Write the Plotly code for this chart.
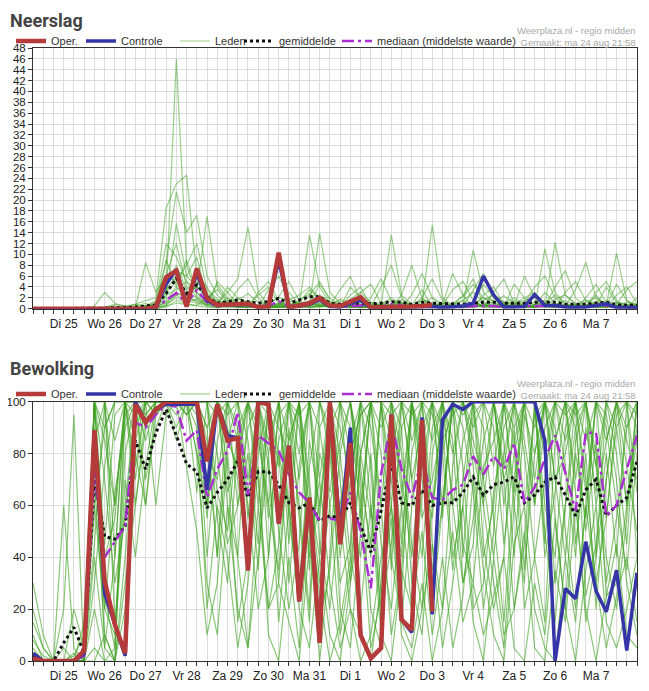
import pandas as pd
import plotly.graph_objects as go

# ===================== DATA =====================
# 6-uurlijkse tijdstappen: ma 24 aug 18:00 t/m di 8 sep 12:00
TIJDEN = pd.date_range("2020-08-24 18:00", periods=60, freq="6h")
DAG_MIDDAG = pd.date_range("2020-08-25 12:00", periods=14, freq="D")
DAG_LABELS = ["Di 25", "Wo 26", "Do 27", "Vr 28", "Za 29", "Zo 30", "Ma 31",
              "Di 1", "Wo 2", "Do 3", "Vr 4", "Za 5", "Zo 6", "Ma 7"]
X_BEREIK = ["2020-08-24 18:00", "2020-09-08 12:00"]

N = None

# ---- Neerslag (mm) ----
NEERSLAG_OPER = [0, 0, 0, 0, 0, 0, 0, 0, 0, 0, 0, 0, 0.3, 5.8, 7.0, 0.4, 7.4, 1.9, 0.7, 0.8, 0.9,
                 0.9, 0.3, 0.4, 10.3, 0.2, 0.6, 1.0, 2.0, 0.6, 0.5, 1.2, 2.1, 0.2, 0.2, 0.2, 0.3,
                 0.4, 0.5, 0.7, N, N, N, N, N, N, N, N, N, N, N, N, N, N, N, N, N, N, N, N]
NEERSLAG_CONTROLE = [0, 0, 0, 0, 0, 0, 0, 0, 0, 0, 0, 0, 0.3, 4.5, 7.2, 0.8, 6.5, 1.5, 0.6, 0.8, 0.7,
                     0.8, 0.3, 0.5, 9.0, 0.3, 0.5, 0.8, 1.7, 0.4, 0.3, 1.0, 1.6, 0.1, 0.1, 0.1, 0.2,
                     0.3, 0.3, 0.4, 0.2, 0.3, 0.5, 1.0, 6.0, 2.5, 0.3, 0.3, 0.4, 2.6, 0.6, 0.6, 0.3,
                     0.2, 0.3, 0.6, 0.9, 0.2, 0.2, 0.2]
NEERSLAG_GEM = [0, 0, 0, 0, 0, 0, 0, 0.1, 0.2, 0.2, 0.3, 0.5, 0.7, 2.8, 5.6, 2.8, 4.4, 2.2, 1.0, 1.3, 1.6,
                1.3, 1.0, 1.3, 1.9, 1.0, 1.6, 2.2, 2.2, 1.0, 0.8, 1.0, 0.9, 0.9, 1.0, 1.3, 1.2,
                0.8, 1.2, 1.0, 1.0, 0.9, 0.8, 1.0, 1.2, 1.2, 1.0, 1.0, 1.0, 1.2, 1.2, 1.2, 0.8,
                0.8, 0.8, 1.0, 1.2, 0.7, 0.6, 0.6]
NEERSLAG_MED = [0, 0, 0, 0, 0, 0, 0, 0, 0, 0, 0, 0.1, 0.2, 1.5, 2.9, 1.0, 3.4, 1.2, 0.4, 0.7, 0.8,
                0.7, 0.3, 0.5, 1.4, 0.4, 0.8, 1.2, 1.4, 0.4, 0.3, 0.5, 0.6, 0.3, 0.4, 0.8, 0.6,
                0.3, 0.5, 0.5, 0.4, 0.3, 0.3, 0.5, 0.5, 0.5, 0.3, 0.4, 0.4, 0.5, 0.5, 0.5, 0.3,
                0.3, 0.3, 0.5, 0.6, 0.3, 0.2, 0.2]
NEERSLAG_LEDEN = [
    [0, 0, 0, 0, 0, 0, 0, 0, 0, 0, 0, 0.5, 1.2, 3.0, 46, 8.0, 2.5, 1.0, 0.5, 2.0, 1.2, 0.8, 0.2, 0.5, 1.0, 0.5, 1.5, 2.8, 1.2, 0.3, 0.2, 0.8, 0.5, 0.2, 0.5, 1.5, 0.8, 0.3, 0.6, 1.2, 0.5, 0.2, 0.3, 0.8, 2.0, 1.5, 0.6, 0.3, 0.2, 0.4, 1.0, 2.5, 0.8, 0.3, 0.5, 1.0, 0.6, 0.3, 0.2, 0.1],
    [0, 0, 0, 0, 0, 0, 0, 0.3, 0.8, 0.5, 0.8, 1.5, 2.0, 18.5, 23, 24.6, 6.0, 3.0, 1.2, 0.5, 0.8, 1.5, 0.6, 0.3, 0.8, 1.0, 0.4, 0.6, 2.5, 1.2, 0.6, 0.4, 0.2, 0.3, 0.8, 2.0, 1.0, 0.5, 1.8, 0.9, 0.4, 0.6, 1.5, 3.0, 1.2, 0.4, 0.2, 0.8, 1.5, 2.2, 0.9, 0.5, 0.3, 0.2, 0.6, 1.4, 0.8, 0.4, 0.3, 0.5],
    [0, 0, 0, 0, 0, 0, 0, 0, 0, 0, 0.2, 0.6, 0.4, 8.5, 21.5, 14.0, 17.2, 6.0, 2.5, 1.0, 0.5, 0.3, 0.2, 0.2, 0.6, 0.5, 1.2, 3.5, 1.8, 0.8, 0.4, 0.2, 0.3, 0.5, 1.2, 0.6, 0.3, 0.2, 0.4, 0.3, 0.6, 1.0, 2.2, 4.5, 2.0, 0.8, 0.4, 0.2, 0.3, 0.6, 1.5, 0.8, 0.4, 0.2, 0.3, 0.8, 1.5, 0.6, 0.3, 0.2],
    [0, 0, 0, 0, 0, 0, 0, 0, 0.2, 0.4, 0.3, 0.2, 1.0, 12.0, 9.5, 5.0, 3.5, 17.0, 4.0, 1.5, 0.8, 0.5, 0.3, 0.2, 0.4, 0.2, 0.6, 1.5, 0.8, 0.4, 0.3, 1.8, 3.0, 1.2, 0.5, 0.3, 0.2, 0.4, 0.8, 15.4, 2.0, 0.6, 0.3, 0.5, 0.8, 1.2, 2.4, 1.0, 0.5, 0.3, 0.5, 0.2, 0.3, 0.5, 1.2, 2.0, 0.8, 0.4, 0.6, 0.3],
    [0, 0, 0, 0, 0, 0, 0, 0, 0, 0, 0, 0, 0.5, 2.0, 15.7, 6.0, 4.0, 2.0, 1.0, 3.0, 5.5, 15.0, 3.0, 0.8, 0.4, 0.6, 0.3, 0.2, 0.5, 0.8, 1.5, 0.6, 0.3, 0.2, 0.3, 0.5, 1.0, 0.8, 0.4, 0.3, 0.2, 0.5, 0.6, 0.4, 1.5, 2.6, 1.2, 0.6, 0.4, 0.3, 0.6, 1.8, 2.5, 1.0, 0.4, 0.2, 0.3, 0.6, 1.2, 0.4],
    [0, 0, 0, 0, 0, 0, 0.5, 3.0, 1.0, 0.4, 0.2, 8.5, 3.0, 6.0, 5.0, 8.0, 12.0, 3.5, 1.8, 0.6, 0.3, 0.2, 0.4, 1.0, 2.0, 1.5, 0.8, 0.4, 0.3, 0.5, 1.0, 0.6, 0.3, 0.2, 0.4, 0.8, 1.6, 0.7, 0.3, 0.6, 1.0, 0.4, 0.2, 0.3, 0.6, 0.4, 0.8, 1.5, 0.6, 0.3, 11.0, 3.0, 1.0, 0.5, 0.3, 0.6, 0.9, 0.5, 0.4, 0.6],
    [0, 0, 0, 0, 0, 0, 0, 0.2, 0, 0, 0, 0.3, 0.6, 1.0, 3.0, 2.0, 6.5, 4.0, 1.0, 0.5, 0.8, 1.2, 0.5, 0.2, 0.2, 0.4, 0.6, 13.6, 4.0, 1.0, 0.5, 0.3, 0.2, 0.3, 0.5, 0.4, 0.6, 0.3, 0.2, 0.4, 0.5, 0.8, 1.5, 0.7, 0.4, 0.5, 0.3, 0.4, 0.8, 1.2, 0.6, 12.2, 2.5, 0.8, 0.4, 0.3, 0.5, 10.2, 1.5, 0.6],
    [0, 0, 0, 0, 0, 0, 0, 0, 0, 0, 0.2, 0.4, 0.2, 1.5, 4.0, 9.0, 3.0, 1.2, 0.6, 1.5, 0.6, 0.4, 0.3, 0.6, 1.0, 0.8, 1.0, 0.5, 13.9, 3.0, 1.0, 0.4, 0.3, 0.2, 0.6, 13.6, 2.5, 0.8, 0.5, 0.3, 0.4, 0.6, 0.8, 0.5, 0.3, 0.4, 1.0, 2.0, 0.8, 0.4, 0.3, 0.5, 0.8, 0.6, 1.6, 0.8, 0.3, 0.2, 0.4, 0.8],
    [0, 0, 0, 0, 0, 0, 0, 0, 0, 0, 0, 0, 0.2, 0.6, 2.5, 1.5, 1.0, 0.5, 0.2, 0.3, 0.5, 0.8, 0.4, 0.2, 0.3, 0.5, 0.8, 1.2, 0.6, 0.3, 0.5, 1.5, 0.8, 0.4, 0.2, 0.3, 0.5, 0.4, 0.6, 0.8, 0.5, 0.3, 0.6, 10.8, 3.0, 1.2, 0.5, 0.3, 0.6, 0.8, 0.4, 0.3, 0.5, 0.8, 0.4, 0.2, 0.6, 1.2, 0.8, 0.4],
    [0, 0, 0, 0, 0, 0, 0, 0, 0, 0.3, 0.8, 0.5, 0.8, 3.5, 6.0, 3.0, 2.0, 0.8, 0.5, 0.8, 1.5, 2.8, 1.2, 0.6, 0.3, 0.2, 0.3, 0.6, 1.5, 0.8, 0.4, 0.6, 0.4, 0.3, 0.4, 0.8, 0.6, 0.4, 0.9, 2.0, 1.0, 0.5, 0.3, 0.4, 0.6, 0.8, 0.5, 0.3, 0.2, 0.4, 0.8, 0.4, 0.3, 0.5, 0.6, 1.0, 0.5, 0.3, 0.2, 0.2],
    [0, 0, 0, 0, 0, 0, 0, 0, 0, 0, 0, 0, 0, 0.5, 1.0, 0.8, 0.6, 2.0, 3.5, 1.2, 0.3, 0.5, 2.5, 4.0, 1.0, 0.3, 0.2, 2.5, 5.0, 1.5, 0.3, 0.2, 3.0, 4.5, 1.0, 0.4, 0.5, 0.3, 2.0, 5.5, 1.5, 0.2, 0.3, 0.2, 2.5, 4.0, 0.8, 0.5, 0.6, 0.4, 3.0, 1.0, 0.3, 0.2, 2.0, 4.5, 1.0, 0.3, 0.2, 2.0],
    [0, 0, 0, 0, 0, 0, 0, 0, 0, 0, 0, 0.2, 0.5, 4.5, 8.0, 3.5, 5.0, 2.5, 0.8, 4.0, 2.0, 1.0, 0.6, 0.4, 0.8, 1.5, 2.5, 4.0, 2.0, 0.8, 0.3, 0.5, 0.6, 0.3, 0.2, 0.4, 0.8, 0.5, 1.5, 0.8, 0.3, 0.2, 0.5, 1.2, 4.5, 2.0, 0.6, 0.4, 0.3, 0.2, 0.4, 0.8, 1.5, 0.6, 0.3, 0.5, 4.0, 1.0, 0.5, 0.3],
    [0, 0, 0, 0, 0, 0, 0, 0, 0, 0, 0, 0, 0.3, 2.5, 3.5, 5.0, 2.0, 1.0, 4.5, 2.0, 0.4, 0.6, 0.3, 0.8, 2.2, 5.0, 1.5, 0.3, 0.4, 0.6, 3.5, 6.0, 1.5, 1.0, 0.6, 0.3, 2.5, 8.0, 2.0, 0.5, 0.3, 0.2, 0.4, 3.5, 6.5, 2.0, 0.3, 0.6, 1.0, 4.0, 6.0, 2.0, 0.5, 0.8, 0.4, 3.0, 5.0, 1.5, 0.2, 0.1],
    [0, 0, 0, 0, 0, 0, 0, 0, 0, 0, 0.5, 1.0, 0.4, 6.0, 12.0, 4.0, 3.0, 1.5, 0.8, 0.5, 0.3, 0.2, 0.4, 0.5, 0.3, 0.2, 0.6, 1.0, 0.5, 0.3, 0.2, 0.4, 0.8, 0.5, 0.3, 0.2, 0.4, 0.6, 1.2, 0.6, 0.4, 0.3, 0.2, 0.3, 0.5, 0.4, 0.3, 0.8, 2.0, 3.0, 1.0, 0.5, 0.4, 0.3, 0.5, 0.4, 0.3, 0.5, 0.4, 0.2],
    [0, 0, 0, 0, 0, 0, 0, 0.3, 0.5, 0.2, 0, 0, 0, 0.3, 1.5, 0.8, 0.5, 0.3, 0.2, 0.6, 3.5, 5.5, 2.0, 0.3, 0.5, 0.3, 0.4, 0.8, 4.5, 2.0, 0.6, 1.0, 0.6, 0.3, 4.0, 8.0, 2.0, 0.3, 0.5, 0.8, 0.6, 3.5, 5.0, 1.5, 0.3, 0.2, 0.4, 4.5, 2.0, 0.6, 0.4, 0.3, 3.0, 5.0, 1.5, 0.3, 0.2, 2.5, 4.0, 1.0],
    [0, 0, 0, 0, 0, 0, 0, 0, 0, 0, 0, 0.2, 0.8, 9.0, 4.0, 2.0, 1.5, 0.6, 0.3, 0.8, 2.0, 1.2, 0.5, 0.2, 0.4, 0.6, 1.2, 0.8, 0.4, 0.5, 1.8, 1.0, 0.3, 0.2, 0.4, 0.6, 0.5, 0.3, 0.2, 0.4, 1.0, 0.6, 0.4, 0.6, 0.8, 0.5, 1.2, 0.8, 0.4, 0.3, 0.5, 0.4, 0.6, 0.4, 0.3, 0.6, 1.2, 0.4, 0.3, 0.2],
    [0, 0, 0, 0, 0, 0, 0, 0, 0, 0, 0, 0, 0, 0.8, 2.0, 1.0, 1.8, 0.6, 5.0, 3.0, 0.8, 0.5, 0.2, 3.5, 6.0, 2.0, 0.4, 0.2, 0.5, 0.3, 0.2, 4.0, 2.0, 0.6, 0.8, 0.5, 0.3, 2.5, 6.5, 2.0, 0.4, 0.5, 0.3, 0.6, 0.4, 3.0, 5.5, 1.0, 0.6, 0.5, 0.4, 0.8, 0.5, 3.5, 8.5, 2.0, 0.5, 0.3, 0.2, 0.3],
    [0, 0, 0, 0, 0, 0, 0, 0, 0, 0, 0, 0.4, 1.5, 5.0, 7.0, 6.0, 9.5, 2.0, 1.5, 1.0, 0.6, 0.4, 0.2, 0.3, 0.8, 0.5, 0.3, 0.6, 1.0, 0.5, 0.3, 0.6, 1.2, 0.8, 0.5, 0.4, 0.3, 0.2, 0.4, 0.6, 0.4, 0.3, 0.6, 1.0, 0.6, 0.4, 0.3, 0.2, 0.5, 0.8, 1.0, 0.5, 0.3, 0.4, 0.8, 0.6, 0.3, 0.5, 0.8, 1.0],
    [0, 0, 0, 0, 0, 0, 0, 0, 0, 0, 0, 0, 0.2, 1.2, 2.5, 3.0, 4.0, 2.5, 0.6, 0.3, 0.2, 0.3, 3.0, 5.0, 1.5, 0.3, 0.4, 0.5, 0.8, 0.6, 0.4, 0.3, 0.2, 2.0, 5.5, 1.5, 0.3, 0.4, 0.3, 0.5, 0.8, 6.5, 2.5, 0.3, 0.6, 0.5, 0.8, 0.4, 0.3, 0.4, 0.6, 4.0, 7.0, 2.0, 0.4, 0.5, 0.6, 0.8, 3.5, 5.0],
    [0, 0, 0, 0, 0, 0, 0, 0, 0, 0, 0, 0.3, 0.6, 3.0, 5.0, 2.5, 1.2, 0.8, 0.6, 0.4, 0.6, 0.8, 0.5, 0.4, 0.3, 3.0, 0.8, 1.2, 0.6, 0.4, 0.3, 2.5, 4.0, 0.4, 0.3, 0.6, 1.2, 0.6, 3.5, 0.3, 0.5, 0.6, 2.5, 5.5, 0.8, 0.4, 0.3, 0.5, 6.0, 2.0, 0.6, 0.3, 0.4, 0.6, 0.3, 2.5, 0.5, 4.5, 1.5, 0.3],
]

# ---- Bewolking (%) ----
BEWOLKING_OPER = [1, 0, 0, 0, 0, 4, 89, 31, 14, 3, 99, 92, 97, 100, 100, 100, 100, 77, 99, 85, 86,
                  35, 100, 99, 53, 83, 23, 63, 7, 100, 45, 84, 10, 1, 5, 95, 16, 12, 93, 19,
                  N, N, N, N, N, N, N, N, N, N, N, N, N, N, N, N, N, N, N, N]
BEWOLKING_CONTROLE = [3, 0, 0, 0, 0, 3, 88, 26, 14, 2, 100, 92, 97, 99, 99, 99, 99, 66, 99, 87, 86,
                      35, 100, 99, 53, 83, 23, 63, 7, 100, 50, 90, 10, 1, 5, 95, 16, 11, 94, 18, 93,
                      99, 97, 100, 100, 100, 100, 100, 100, 100, 85, 0, 28, 24, 46, 27, 19, 35, 4, 34]
BEWOLKING_GEM = [2, 0, 0, 7, 13, 3, 70, 48, 47, 52, 85, 74, 88, 97, 87, 76, 73, 59, 65, 70, 77,
                 63, 73, 73, 68, 61, 59, 61, 54, 56, 55, 61, 52, 42, 58, 76, 61, 60, 66, 60, 61,
                 61, 65, 71, 64, 68, 69, 71, 61, 64, 69, 71, 64, 56, 66, 70, 56, 60, 63, 77]
BEWOLKING_MED = [1, 0, 0, 0, 0, 2, 73, 40, 46, 52, 92, 90, 95, 99, 98, 85, 89, 63, 74, 81, 96,
                 64, 87, 84, 81, 72, 65, 61, 54, 55, 54, 65, 50, 28, 72, 92, 74, 63, 78, 63, 62,
                 66, 68, 79, 72, 79, 74, 84, 61, 67, 78, 87, 72, 58, 88, 88, 56, 60, 74, 87]
BEWOLKING_LEDEN = [
    [8, 2, 0, 0, 0, 0, 100, 85, 60, 100, 100, 95, 100, 100, 100, 100, 80, 60, 100, 90, 70, 40, 100, 100, 80, 60, 30, 75, 100, 85, 40, 70, 100, 60, 20, 45, 90, 100, 80, 35, 60, 100, 100, 85, 70, 40, 80, 100, 60, 95, 100, 70, 40, 80, 55, 100, 90, 60, 35, 80],
    [0, 0, 0, 0, 0, 5, 60, 20, 10, 80, 100, 100, 100, 100, 100, 95, 100, 100, 65, 50, 90, 100, 70, 20, 45, 100, 90, 60, 15, 35, 80, 100, 65, 20, 5, 80, 100, 70, 40, 90, 100, 60, 30, 55, 85, 100, 70, 20, 45, 100, 85, 30, 60, 90, 100, 75, 40, 20, 55, 100],
    [15, 5, 0, 20, 95, 0, 100, 40, 55, 100, 75, 100, 100, 100, 100, 100, 100, 90, 40, 85, 100, 55, 100, 75, 30, 85, 100, 40, 60, 100, 55, 20, 10, 0, 30, 100, 70, 40, 85, 100, 55, 100, 90, 65, 20, 50, 100, 100, 80, 40, 15, 85, 100, 100, 70, 30, 55, 95, 100, 65],
    [2, 0, 0, 0, 20, 5, 70, 10, 0, 40, 90, 100, 95, 100, 100, 100, 95, 40, 85, 100, 60, 80, 35, 100, 100, 60, 100, 50, 0, 40, 100, 90, 60, 100, 60, 10, 35, 80, 100, 45, 20, 75, 100, 100, 60, 30, 5, 60, 100, 70, 100, 90, 50, 20, 60, 100, 95, 70, 30, 10],
    [0, 0, 0, 0, 0, 0, 100, 45, 95, 100, 60, 95, 100, 100, 85, 100, 100, 70, 100, 60, 40, 100, 90, 55, 80, 30, 75, 100, 90, 100, 100, 60, 40, 80, 25, 60, 100, 100, 55, 70, 90, 40, 60, 100, 100, 90, 45, 80, 100, 60, 100, 100, 75, 40, 90, 65, 100, 80, 45, 100],
    [10, 0, 0, 5, 0, 3, 45, 100, 15, 60, 100, 85, 100, 100, 100, 100, 100, 100, 55, 30, 85, 100, 100, 60, 35, 90, 60, 20, 100, 100, 70, 30, 80, 100, 100, 85, 60, 20, 65, 100, 100, 85, 30, 45, 100, 100, 60, 90, 35, 80, 100, 55, 20, 85, 100, 40, 70, 100, 60, 85],
    [3, 0, 0, 60, 5, 0, 85, 100, 40, 100, 100, 70, 90, 100, 100, 95, 100, 100, 100, 75, 15, 40, 80, 100, 100, 55, 25, 85, 60, 90, 20, 5, 50, 100, 80, 40, 15, 60, 100, 100, 80, 35, 70, 100, 90, 55, 15, 70, 100, 100, 60, 40, 90, 100, 25, 45, 80, 40, 100, 90],
    [0, 0, 0, 0, 0, 0, 30, 75, 100, 100, 85, 100, 60, 95, 100, 100, 100, 60, 100, 100, 100, 85, 45, 100, 75, 100, 100, 35, 80, 65, 100, 100, 70, 45, 100, 60, 25, 100, 85, 20, 60, 100, 100, 75, 40, 60, 100, 85, 20, 40, 70, 100, 100, 65, 15, 40, 100, 100, 75, 50],
    [20, 5, 0, 0, 2, 10, 100, 25, 5, 100, 95, 100, 100, 100, 90, 100, 100, 80, 70, 100, 85, 60, 20, 40, 100, 100, 80, 100, 45, 20, 60, 85, 100, 90, 60, 100, 80, 45, 20, 80, 100, 100, 45, 30, 75, 85, 100, 65, 100, 100, 50, 15, 60, 100, 100, 80, 30, 55, 90, 100],
    [0, 0, 0, 0, 0, 0, 40, 5, 0, 95, 100, 100, 100, 100, 100, 100, 65, 100, 80, 45, 60, 90, 100, 95, 50, 20, 45, 100, 100, 80, 30, 45, 95, 100, 45, 20, 60, 100, 70, 55, 100, 60, 85, 100, 45, 20, 40, 100, 85, 60, 90, 100, 100, 45, 80, 20, 70, 100, 100, 40],
    [5, 0, 0, 0, 0, 0, 100, 70, 30, 55, 100, 100, 100, 100, 100, 100, 100, 100, 100, 85, 75, 100, 60, 100, 90, 80, 100, 65, 40, 100, 90, 70, 100, 75, 15, 90, 45, 100, 100, 60, 85, 95, 100, 80, 60, 100, 85, 40, 95, 80, 100, 100, 85, 100, 65, 100, 55, 90, 60, 100],
    [0, 0, 0, 0, 3, 0, 90, 5, 40, 100, 70, 100, 100, 100, 100, 100, 100, 55, 100, 100, 90, 65, 100, 100, 60, 100, 55, 15, 90, 60, 10, 35, 80, 55, 100, 100, 90, 30, 10, 60, 100, 100, 75, 20, 30, 65, 90, 100, 100, 100, 40, 65, 100, 90, 50, 85, 25, 30, 60, 90],
    [0, 0, 0, 0, 0, 15, 100, 100, 85, 100, 100, 100, 100, 100, 100, 100, 100, 90, 100, 100, 100, 100, 85, 60, 95, 100, 95, 100, 55, 100, 100, 80, 95, 100, 90, 100, 65, 100, 100, 95, 80, 100, 100, 90, 100, 100, 75, 100, 100, 90, 100, 100, 95, 100, 100, 75, 100, 100, 100, 95],
    [0, 0, 0, 0, 0, 0, 5, 0, 0, 30, 60, 90, 100, 100, 100, 100, 80, 30, 10, 60, 20, 5, 40, 80, 15, 60, 20, 5, 40, 10, 0, 30, 60, 5, 25, 55, 10, 0, 20, 45, 5, 30, 60, 15, 0, 40, 10, 20, 50, 5, 0, 35, 15, 60, 20, 0, 25, 45, 10, 5],
    [30, 10, 0, 0, 0, 0, 100, 90, 100, 100, 100, 100, 100, 100, 100, 100, 100, 100, 95, 100, 100, 100, 100, 80, 100, 85, 100, 100, 100, 90, 100, 100, 80, 100, 100, 95, 100, 85, 100, 100, 90, 100, 95, 100, 100, 100, 100, 90, 100, 100, 100, 85, 100, 95, 100, 100, 100, 100, 90, 100],
    [0, 0, 0, 0, 0, 0, 20, 0, 5, 70, 40, 75, 100, 100, 95, 100, 90, 20, 60, 40, 5, 30, 75, 10, 0, 40, 5, 60, 25, 0, 15, 40, 20, 60, 10, 0, 35, 20, 50, 10, 40, 5, 25, 70, 35, 10, 0, 45, 60, 20, 5, 0, 40, 15, 60, 30, 5, 25, 40, 15],
    [0, 0, 0, 0, 0, 0, 100, 100, 60, 100, 100, 100, 100, 100, 100, 100, 100, 100, 100, 95, 100, 100, 100, 100, 100, 100, 70, 100, 100, 100, 100, 100, 55, 100, 100, 100, 100, 95, 100, 85, 100, 100, 100, 100, 70, 100, 100, 100, 100, 100, 80, 100, 100, 100, 100, 100, 85, 100, 100, 100],
    [0, 0, 0, 0, 0, 0, 0, 10, 0, 20, 80, 60, 95, 100, 100, 75, 50, 10, 30, 80, 40, 5, 60, 20, 30, 15, 0, 45, 70, 30, 5, 20, 0, 10, 40, 60, 15, 5, 30, 0, 20, 50, 15, 30, 10, 25, 40, 5, 0, 30, 10, 55, 20, 0, 35, 60, 15, 5, 20, 40],
    [2, 0, 0, 0, 0, 0, 80, 20, 65, 90, 100, 100, 95, 100, 100, 100, 100, 85, 40, 100, 100, 70, 100, 40, 85, 100, 100, 70, 30, 60, 85, 100, 75, 40, 100, 35, 100, 70, 90, 100, 60, 100, 40, 95, 100, 75, 100, 60, 30, 100, 45, 100, 100, 70, 100, 60, 85, 100, 85, 70],
    [0, 0, 0, 0, 0, 0, 60, 90, 100, 100, 100, 60, 100, 100, 100, 100, 100, 100, 100, 65, 80, 100, 100, 85, 100, 45, 100, 100, 70, 100, 80, 40, 100, 100, 100, 70, 40, 100, 75, 100, 100, 80, 100, 100, 100, 100, 70, 85, 100, 100, 100, 70, 80, 100, 85, 100, 100, 90, 100, 100],
]

for reeks in [NEERSLAG_OPER, NEERSLAG_CONTROLE, NEERSLAG_GEM, NEERSLAG_MED,
              BEWOLKING_OPER, BEWOLKING_CONTROLE, BEWOLKING_GEM, BEWOLKING_MED] + NEERSLAG_LEDEN + BEWOLKING_LEDEN:
    assert len(reeks) == 60, len(reeks)

# ===================== OPMAAK =====================
# de pagina zet de grafiek 8px van de rand (body-marge); maten hieronder in schermpixels
RAND = 8
W, H = 649 - 2 * RAND, 691 - 2 * RAND
ML, MR, MT, MB = 33 - RAND, W - (637 - RAND), 48 - RAND, H - (661 - RAND)
PW, PH = W - ML - MR, H - MT - MB

KLEUR_OPER = "#b53a3a"
KLEUR_CONTROLE = "#3535a8"
KLEUR_GEM = "#111111"
KLEUR_MED = "#a92fd0"
GRID = "#dcdcdc"
DAGLIJN = "#555555"
AS = "#333333"
FONT = "Liberation Sans, Arial, sans-serif"


def px_x(px):
    return (px - RAND - ML) / PW


def px_y(py):
    return (H - MB - (py - RAND)) / PH


def voeg_grafiek_toe(fig, xa, ya, oper, controle, gem, med, leden, legends, kleur_leden):
    lg_oper, lg_contr, lg_leden, lg_gem, lg_med = legends
    for k, lid in enumerate(leden):
        fig.add_trace(go.Scatter(
            x=TIJDEN, y=lid, mode="lines", name="Leden",
            line=dict(color=kleur_leden, width=1.2),
            legend=lg_leden, legendgroup=lg_leden, showlegend=(k == 0),
            xaxis=xa, yaxis=ya, hoverinfo="skip",
        ))
    fig.add_trace(go.Scatter(
        x=TIJDEN, y=gem, mode="lines", name="gemiddelde",
        line=dict(color=KLEUR_GEM, width=3, dash="dot"),
        legend=lg_gem, xaxis=xa, yaxis=ya,
    ))
    fig.add_trace(go.Scatter(
        x=TIJDEN, y=med, mode="lines", name="mediaan (middelste waarde)",
        line=dict(color=KLEUR_MED, width=2.5, dash="12px,4px,3px,4px"),
        legend=lg_med, xaxis=xa, yaxis=ya,
    ))
    fig.add_trace(go.Scatter(
        x=TIJDEN, y=controle, mode="lines", name="Controle",
        line=dict(color=KLEUR_CONTROLE, width=3.5),
        legend=lg_contr, xaxis=xa, yaxis=ya,
    ))
    fig.add_trace(go.Scatter(
        x=TIJDEN, y=oper, mode="lines", name="Oper.",
        line=dict(color=KLEUR_OPER, width=4.5),
        legend=lg_oper, xaxis=xa, yaxis=ya, connectgaps=False,
    ))


LEGENDS_BOVEN = ["legend2", "legend3", "legend4", "legend5", "legend6"]
LEGENDS_ONDER = ["legend7", "legend8", "legend9", "legend10", "legend11"]

fig = go.Figure()
voeg_grafiek_toe(fig, "x", "y", NEERSLAG_OPER, NEERSLAG_CONTROLE, NEERSLAG_GEM, NEERSLAG_MED,
                 NEERSLAG_LEDEN, LEGENDS_BOVEN, "rgba(60,160,30,0.5)")
voeg_grafiek_toe(fig, "x2", "y2", BEWOLKING_OPER, BEWOLKING_CONTROLE, BEWOLKING_GEM, BEWOLKING_MED,
                 BEWOLKING_LEDEN, LEGENDS_ONDER, "rgba(60,160,30,0.6)")


def x_as(anchor):
    return dict(
        type="date", range=X_BEREIK, anchor=anchor,
        tickmode="array", tickvals=DAG_MIDDAG, ticktext=DAG_LABELS,
        ticks="outside", ticklen=4, tickcolor=AS,
        tickfont=dict(size=12, color="#222222"),
        showgrid=True, gridcolor=GRID, gridwidth=1,
        minor=dict(dtick=6 * 3600 * 1000, tick0="2020-08-25 00:00", ticks="outside",
                   ticklen=4, tickcolor=AS, showgrid=True, gridcolor=GRID, gridwidth=1),
        showline=True, mirror=True, linecolor=AS, linewidth=1,
        zeroline=False, fixedrange=True,
    )


def dag_as(overlay, anchor):
    return dict(
        type="date", range=X_BEREIK, overlaying=overlay, anchor=anchor,
        tickmode="linear", tick0="2020-08-25 00:00", dtick=86400000,
        showticklabels=False, ticks="", showgrid=True, gridcolor=DAGLIJN, gridwidth=1,
        showline=False, zeroline=False, fixedrange=True,
    )


def y_as(domein, bereik, stap):
    return dict(
        domain=domein, range=bereik, dtick=stap, tick0=0,
        ticks="outside", ticklen=4, tickcolor=AS,
        tickfont=dict(size=11.5, color="#222222"),
        showgrid=True, gridcolor=GRID, gridwidth=1,
        showline=True, mirror=True, linecolor=AS, linewidth=1,
        zeroline=False, fixedrange=True,
    )


def legenda(px_tekst, py_midden):
    return dict(
        x=px_x(px_tekst - 40), y=px_y(py_midden), xanchor="left", yanchor="middle",
        orientation="h", bgcolor="rgba(0,0,0,0)", borderwidth=0,
        font=dict(size=11, color="#333333", family=FONT), itemwidth=30,
    )


LEGENDA_TEKST_X = [51, 121, 215, 279, 377]
legenden = {}
for j, px in enumerate(LEGENDA_TEKST_X):
    legenden[LEGENDS_BOVEN[j]] = legenda(px, 41)
    legenden[LEGENDS_ONDER[j]] = legenda(px, 394)

fig.update_layout(
    width=W, height=H,
    margin=dict(l=ML, r=MR, t=MT, b=MB, autoexpand=False),
    paper_bgcolor="white", plot_bgcolor="white",
    font=dict(family=FONT, color="#333333"),
    showlegend=True,
    xaxis=x_as("y"),
    xaxis2=x_as("y2"),
    xaxis3=dag_as("x", "y"),
    xaxis4=dag_as("x2", "y2"),
    yaxis=y_as([px_y(308.7), 1], [0, 48], 2),
    yaxis2=y_as([0, px_y(401.7)], [0, 100], 20),
    **legenden,
)

# titels en bronvermelding (niet buiten de rand van de grafiek)
for titel, py in [("Neerslag", RAND), ("Bewolking", 356)]:
    fig.add_annotation(
        text=f"<b>{titel}</b>", xref="paper", yref="paper",
        x=px_x(RAND), y=px_y(py), xanchor="left", yanchor="top", showarrow=False,
        font=dict(size=18, color="#444444", family="Roboto, Arial, sans-serif"),
    )
for py in (36, 389):
    fig.add_annotation(
        text="Weerplaza.nl - regio midden<br>Gemaakt: ma 24 aug 21:58",
        xref="paper", yref="paper", align="right",
        x=px_x(638), y=px_y(py), xanchor="right", yanchor="middle", showarrow=False,
        font=dict(size=9.5, color="#a8a8a8"),
    )

fig.write_html("out.html")
